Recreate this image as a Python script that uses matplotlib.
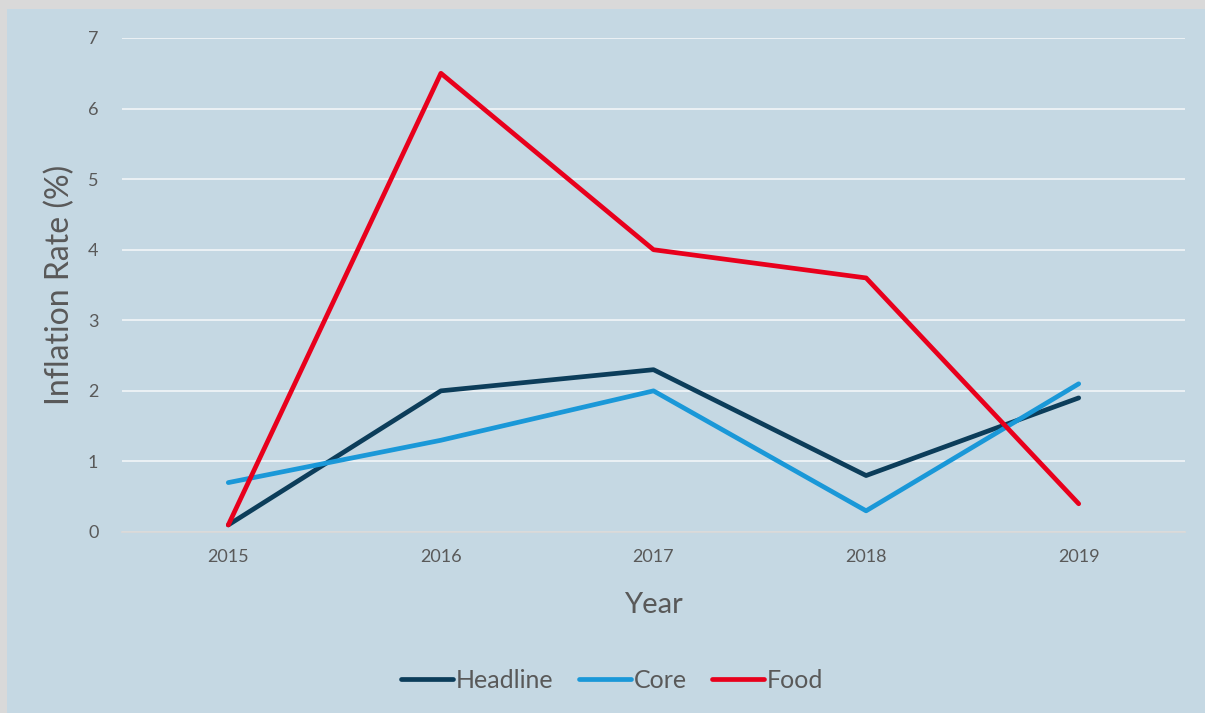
import numpy as np
import matplotlib.pyplot as plt
from matplotlib.patches import Rectangle

plt.rcParams['font.family'] = ['Lato', 'DejaVu Sans']

# data
years = ['2015', '2016', '2017', '2018', '2019']
headline = [0.1, 2.0, 2.3, 0.8, 1.9]
core = [0.7, 1.3, 2.0, 0.3, 2.1]
food = [0.1, 6.5, 4.0, 3.6, 0.4]

bg = '#c5d8e3'
txt = '#595959'

fig = plt.figure(figsize=(12.05, 7.13), dpi=100)
fig.patch.set_facecolor('#d9d9d9')
fig.patches.append(Rectangle((7 / 1205, 0), 1, (713 - 9) / 713,
                             transform=fig.transFigure, facecolor=bg,
                             edgecolor='none', zorder=-5))

ax = fig.add_axes([122 / 1205, 181 / 713, (1185 - 122) / 1205, (532 - 38) / 713])
ax.set_facecolor(bg)
ax.set_zorder(2)

x = np.arange(len(years))
lw = 3.4
ax.plot(x, headline, color='#0c3d5a', lw=lw, label='Headline', solid_capstyle='round')
ax.plot(x, core, color='#1a98d8', lw=lw, label='Core', solid_capstyle='round')
ax.plot(x, food, color='#e8001c', lw=lw, label='Food', solid_capstyle='round')

ax.set_xlim(-0.5, len(years) - 0.5)
ax.set_ylim(0, 7)
ax.set_xticks(x)
ax.set_xticklabels(years)
ax.set_yticks(range(0, 8))

ax.yaxis.grid(True, color='#eef3f6', lw=1.3)
ax.set_axisbelow(True)
for s in ['top', 'right', 'left']:
    ax.spines[s].set_visible(False)
ax.spines['bottom'].set_color('#d9d9d9')
ax.spines['bottom'].set_linewidth(1.3)
ax.tick_params(axis='both', length=0, colors=txt, labelsize=13)
ax.tick_params(axis='x', pad=12)
ax.tick_params(axis='y', pad=17)

ax.set_xlabel('Year', fontsize=21, color=txt, labelpad=20)
ax.set_ylabel('Inflation Rate (%)', fontsize=23, color=txt, labelpad=9)

leg = fig.legend(loc='center', bbox_to_anchor=(612 / 1205, 1 - 680 / 713), ncol=3,
                 frameon=False, fontsize=18, handlelength=2.1, handletextpad=0.1,
                 columnspacing=1.0, labelcolor=txt)
leg.set_zorder(3)

fig.savefig('out.png', dpi=100, facecolor=fig.get_facecolor())
